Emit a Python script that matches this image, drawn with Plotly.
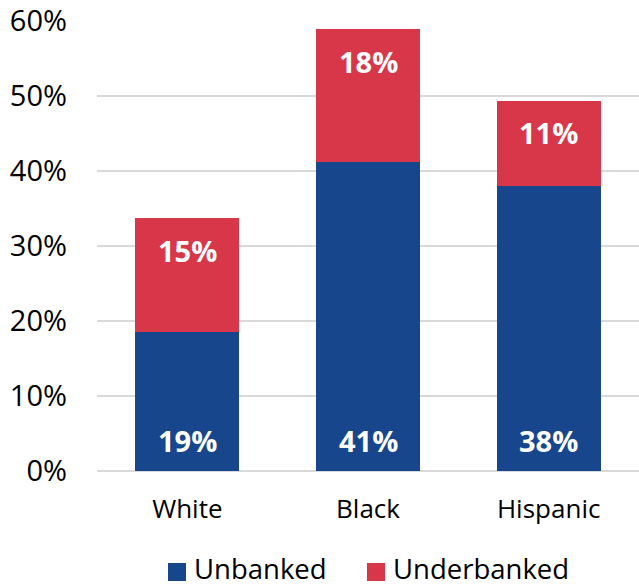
import plotly.graph_objects as go

categories = ["White", "Black", "Hispanic"]
unbanked = [18.6, 41.2, 38.0]
underbanked = [15.1, 17.7, 11.4]
series_names = ["Unbanked", "Underbanked"]
y_ticks = [0, 10, 20, 30, 40, 50, 60]
y_tick_labels = [f"{t}%" for t in y_ticks]

BLUE = "#17468D"
RED = "#D8374A"
FONT = "Open Sans"

fig = go.Figure()
fig.add_trace(go.Bar(x=categories, y=unbanked, name=series_names[0],
                     marker=dict(color=BLUE, line=dict(width=0)), showlegend=False))
fig.add_trace(go.Bar(x=categories, y=underbanked, name=series_names[1],
                     marker=dict(color=RED, line=dict(width=0)), showlegend=False))

annotations = []
for c, u, d in zip(categories, unbanked, underbanked):
    annotations.append(dict(x=c, y=0, xref="x", yref="y", text=f"{round(u)}%",
                            showarrow=False, yanchor="middle", yshift=31,
                            font=dict(family=FONT, size=29, color="white", weight="bold")))
    annotations.append(dict(x=c, y=u + d, xref="x", yref="y", text=f"{round(d)}%",
                            showarrow=False, yanchor="middle", yshift=-32,
                            font=dict(family=FONT, size=29, color="white", weight="bold")))

W, H = 639, 586
L, R, T, B = 97, 0, 21, 115
pw, ph = W - L - R, H - T - B

def px_x(px):
    return (px - L) / pw

def px_y(py):
    return (H - B - py) / ph

shapes = []
legend_items = [(series_names[0], BLUE, 168), (series_names[1], RED, 367)]
for name, col, x0 in legend_items:
    shapes.append(dict(type="rect", xref="paper", yref="paper",
                       x0=px_x(x0), x1=px_x(x0 + 18), y0=px_y(581), y1=px_y(563),
                       fillcolor=col, line=dict(width=0)))
    annotations.append(dict(x=px_x(x0 + 24), y=px_y(568), xref="paper", yref="paper",
                            text=name, showarrow=False, xanchor="left", yanchor="middle",
                            font=dict(family=FONT, size=27.5, color="black")))

fig.update_layout(
    barmode="stack",
    bargap=0.425,
    width=W, height=H,
    margin=dict(l=L, r=R, t=T, b=B),
    paper_bgcolor="white", plot_bgcolor="white",
    font=dict(family=FONT, color="black"),
    showlegend=False,
    hovermode=False,
    annotations=annotations,
    shapes=shapes,
    xaxis=dict(tickfont=dict(size=26, color="black"), ticks="", showgrid=False,
               showline=False, zeroline=False, ticklabelstandoff=20),
    yaxis=dict(range=[0, 60], tickvals=y_ticks, ticktext=y_tick_labels,
               tickfont=dict(size=29, color="black"), showgrid=True,
               gridcolor="#D9D9D9", gridwidth=1.5, zeroline=True,
               zerolinecolor="#D9D9D9", zerolinewidth=1.5, ticks="",
               ticklabelstandoff=29, showline=False),
)
fig.write_html("out.html", config={"displayModeBar": False},
               post_script="document.body.style.margin='0';document.body.style.overflow='hidden';")
